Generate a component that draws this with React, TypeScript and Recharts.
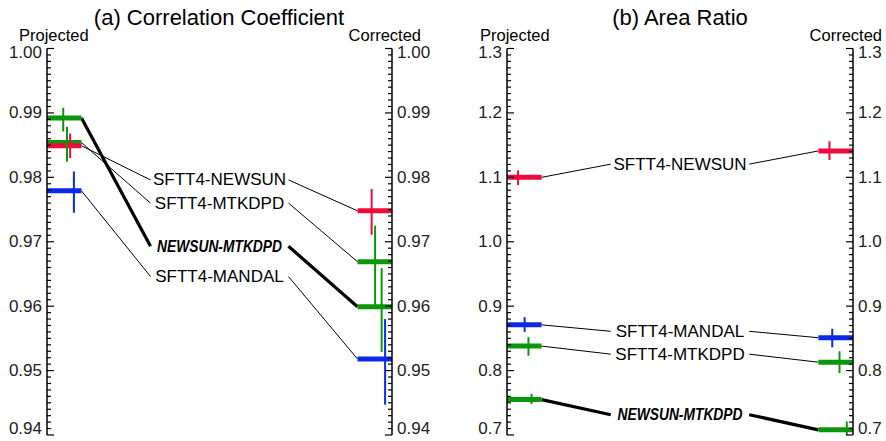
import React from 'react';
import { ComposedChart, Line, XAxis, YAxis, Scatter } from 'recharts';

// ---------- data ----------
const seriesNames = ['SFTT4-NEWSUN', 'SFTT4-MTKDPD', 'NEWSUN-MTKDPD', 'SFTT4-MANDAL'];
const seriesEmphasis = [false, false, true, false];

// (a) Correlation Coefficient
const corrProjected = [0.9849, 0.9854, 0.9892, 0.9779];
const corrProjectedLo = [0.9830, 0.9824, 0.9871, 0.9745];
const corrProjectedHi = [0.9868, 0.9878, 0.9908, 0.9809];
const corrCorrected = [0.9748, 0.9669, 0.9599, 0.9518];
const corrCorrectedLo = [0.9711, 0.9602, 0.9529, 0.9447];
const corrCorrectedHi = [0.9782, 0.9725, 0.9659, 0.9580];
const corrLabelAt = [0.9796, 0.9760, 0.9693, 0.9646];
const corrMajorTicks = [0.94, 0.95, 0.96, 0.97, 0.98, 0.99, 1.0];

// (b) Area Ratio
const areaProjected = [1.100, 0.838, 0.755, 0.871];
const areaProjectedLo = [1.088, 0.823, 0.748, 0.860];
const areaProjectedHi = [1.111, 0.852, 0.764, 0.883];
const areaCorrected = [1.141, 0.813, 0.708, 0.851];
const areaCorrectedLo = [1.127, 0.796, 0.700, 0.836];
const areaCorrectedHi = [1.156, 0.830, 0.721, 0.865];
const areaLabelAt = [1.1205, 0.8255, 0.7315, 0.861];
const areaMajorTicks = [0.7, 0.8, 0.9, 1.0, 1.1, 1.2, 1.3];

// ---------- style / layout ----------
const seriesColors = ['#ee0b3c', '#0b960b', '#0b960b', '#0b2ae6'];
const drawOrder = [1, 2, 3, 0];
const FONT = '"Liberation Sans", Arial, Helvetica, sans-serif';
const BAR_LEN = 10;
const LABEL_CENTER = 50;
const LABEL_HALF = 20;
const corrErrX = { proj: [6.7, 5.8, 4.7, 7.8], corr: [94.1, 95.1, 97.0, 98.0] };
const areaErrX = { proj: [3.2, 6.2, 7.1, 5.1], corr: [93.2, 96.1, 98.2, 94.0] };

const H = 441;
const TOP = 48.5;
const BOTTOM = 435;

function buildMinor(majors: number[]): number[] {
  const out: number[] = [];
  for (let i = 0; i < majors.length - 1; i++) {
    const a = majors[i];
    const b = majors[i + 1];
    for (let k = 0; k < 10; k++) out.push(Math.round((a + ((b - a) * k) / 10) * 100000) / 100000);
  }
  out.push(majors[majors.length - 1]);
  return out;
}

function makeTick(side: 'left' | 'right', majors: number[], digits: number) {
  return (props: any) => {
    const { x, y, payload } = props;
    const v = payload.value;
    const major = majors.some((m) => Math.abs(m - v) < 1e-7);
    const dir = side === 'left' ? 1 : -1;
    const len = major ? 7 : 4;
    let ty = y;
    if (ty < TOP + 3.5) ty = TOP + 3.5;
    if (ty > BOTTOM - 6.5) ty = BOTTOM - 6.5;
    return (
      <g>
        <line x1={x} y1={y} x2={x + dir * len} y2={y} stroke="#000" strokeWidth={1.2} />
        {major && (
          <text
            x={x - dir * 5}
            y={ty}
            textAnchor={side === 'left' ? 'end' : 'start'}
            dominantBaseline="central"
            fontSize={17}
            fontFamily={FONT}
            fill="#222"
          >
            {v.toFixed(digits)}
          </text>
        )}
      </g>
    );
  };
}

type PanelProps = {
  left: number;
  width: number;
  leftAxisW: number;
  rightAxisW: number;
  projected: number[];
  projectedLo: number[];
  projectedHi: number[];
  corrected: number[];
  correctedLo: number[];
  correctedHi: number[];
  labelAt: number[];
  majors: number[];
  digits: number;
  errX: { proj: number[]; corr: number[] };
};

function Panel(p: PanelProps) {
  const minor = buildMinor(p.majors);
  const domain: [number, number] = [p.majors[0], p.majors[p.majors.length - 1]];
  const idx = [0, 1, 2, 3];
  const common = {
    yAxisId: 'L',
    dot: false,
    activeDot: false,
    isAnimationActive: false,
    type: 'linear' as const,
    dataKey: 'y',
  };
  return (
    <div style={{ position: 'absolute', left: p.left, top: 0 }}>
      <ComposedChart width={p.width} height={H} margin={{ top: TOP, right: 0, bottom: H - BOTTOM, left: 0 }}>
        <XAxis type="number" dataKey="x" domain={[0, 100]} hide allowDataOverflow />
        <YAxis
          yAxisId="L"
          orientation="left"
          type="number"
          domain={domain}
          allowDataOverflow
          ticks={minor}
          interval={0}
          width={p.leftAxisW}
          tickSize={0}
          tickMargin={0}
          tickLine={false}
          axisLine={{ stroke: '#000', strokeWidth: 1.5 }}
          tick={makeTick('left', p.majors, p.digits)}
        />
        <YAxis
          yAxisId="R"
          orientation="right"
          type="number"
          domain={domain}
          allowDataOverflow
          ticks={minor}
          interval={0}
          width={p.rightAxisW}
          tickSize={0}
          tickMargin={0}
          tickLine={false}
          axisLine={{ stroke: '#000', strokeWidth: 1.5 }}
          tick={makeTick('right', p.majors, p.digits)}
        />
        {idx.map((i) => (
          <Line
            key={'c1' + i}
            {...common}
            data={[
              { x: BAR_LEN, y: p.projected[i] },
              { x: LABEL_CENTER - LABEL_HALF, y: p.labelAt[i] },
            ]}
            stroke="#000"
            strokeWidth={seriesEmphasis[i] ? 3.2 : 1}
          />
        ))}
        {idx.map((i) => (
          <Line
            key={'c2' + i}
            {...common}
            data={[
              { x: LABEL_CENTER + LABEL_HALF, y: p.labelAt[i] },
              { x: 100 - BAR_LEN, y: p.corrected[i] },
            ]}
            stroke="#000"
            strokeWidth={seriesEmphasis[i] ? 3.2 : 1}
          />
        ))}
        {drawOrder.map((i) => (
          <Line
            key={'pb' + i}
            {...common}
            data={[
              { x: 0, y: p.projected[i] },
              { x: BAR_LEN, y: p.projected[i] },
            ]}
            stroke={seriesColors[i]}
            strokeWidth={5}
          />
        ))}
        {drawOrder.map((i) => (
          <Line
            key={'cb' + i}
            {...common}
            data={[
              { x: 100 - BAR_LEN, y: p.corrected[i] },
              { x: 100, y: p.corrected[i] },
            ]}
            stroke={seriesColors[i]}
            strokeWidth={5}
          />
        ))}
        {drawOrder.map((i) => (
          <Line
            key={'pe' + i}
            {...common}
            data={[
              { x: p.errX.proj[i], y: p.projectedLo[i] },
              { x: p.errX.proj[i], y: p.projectedHi[i] },
            ]}
            stroke={seriesColors[i]}
            strokeWidth={2}
          />
        ))}
        {drawOrder.map((i) => (
          <Line
            key={'ce' + i}
            {...common}
            data={[
              { x: p.errX.corr[i], y: p.correctedLo[i] },
              { x: p.errX.corr[i], y: p.correctedHi[i] },
            ]}
            stroke={seriesColors[i]}
            strokeWidth={2}
          />
        ))}
        {idx.map((i) => (
          <Scatter
            key={'lb' + i}
            yAxisId="L"
            data={[{ x: LABEL_CENTER, y: p.labelAt[i] }]}
            dataKey="y"
            isAnimationActive={false}
            shape={(sp: any) =>
              seriesEmphasis[i] ? (
                <text
                  x={sp.cx}
                  y={sp.cy}
                  textAnchor="middle"
                  dominantBaseline="central"
                  fontSize={17}
                  fontFamily={'"Liberation Sans Narrow", ' + FONT}
                  fontWeight="bold"
                  fontStyle="italic"
                  textLength={125}
                  lengthAdjust="spacingAndGlyphs"
                  fill="#000"
                >
                  {seriesNames[i]}
                </text>
              ) : (
                <text
                  x={sp.cx}
                  y={sp.cy}
                  textAnchor="middle"
                  dominantBaseline="central"
                  fontSize={17}
                  fontFamily={FONT}
                  fill="#000"
                >
                  {seriesNames[i]}
                </text>
              )
            }
          />
        ))}
      </ComposedChart>
    </div>
  );
}

export default function App() {
  return (
    <div style={{ position: 'absolute', left: 0, top: 0, width: 886, height: 441, background: '#fff' }}>
      <Panel
        left={0}
        width={443}
        leftAxisW={47}
        rightAxisW={51}
        projected={corrProjected}
        projectedLo={corrProjectedLo}
        projectedHi={corrProjectedHi}
        corrected={corrCorrected}
        correctedLo={corrCorrectedLo}
        correctedHi={corrCorrectedHi}
        labelAt={corrLabelAt}
        majors={corrMajorTicks}
        digits={2}
        errX={corrErrX}
      />
      <Panel
        left={443}
        width={443}
        leftAxisW={64}
        rightAxisW={33}
        projected={areaProjected}
        projectedLo={areaProjectedLo}
        projectedHi={areaProjectedHi}
        corrected={areaCorrected}
        correctedLo={areaCorrectedLo}
        correctedHi={areaCorrectedHi}
        labelAt={areaLabelAt}
        majors={areaMajorTicks}
        digits={1}
        errX={areaErrX}
      />
      <svg
        width={886}
        height={441}
        style={{ position: 'absolute', left: 0, top: 0, pointerEvents: 'none' }}
      >
        <g fontFamily={FONT} fill="#000">
          <text x={219} y={25} fontSize={22} textAnchor="middle">(a) Correlation Coefficient</text>
          <text x={680} y={25} fontSize={22} textAnchor="middle">(b) Area Ratio</text>
          <text x={19} y={41} fontSize={16.5} textAnchor="start">Projected</text>
          <text x={421} y={41} fontSize={16.5} textAnchor="end">Corrected</text>
          <text x={480} y={41} fontSize={16.5} textAnchor="start">Projected</text>
          <text x={882} y={41} fontSize={16.5} textAnchor="end">Corrected</text>
        </g>
      </svg>
    </div>
  );
}
